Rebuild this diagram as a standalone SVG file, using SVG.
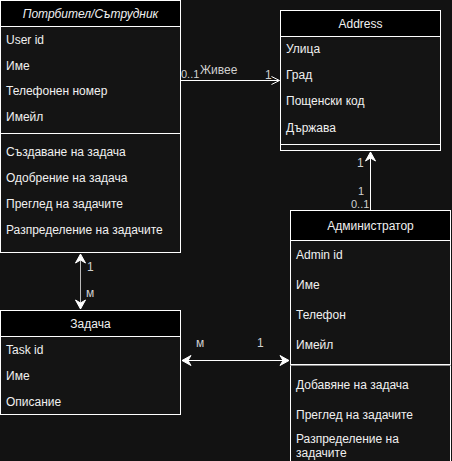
<svg xmlns="http://www.w3.org/2000/svg" width="452" height="461" viewBox="0 0 452 461">
<style>
.box{fill:#141414;stroke:#ffffff;stroke-width:1}
.hdr{fill:#000000;stroke:#ffffff;stroke-width:1}
.sep{stroke:#ffffff;stroke-width:1}
text{font-family:"Liberation Sans",Arial,sans-serif;font-size:12px;fill:#f0f0f0}
.t{text-anchor:middle}
.lbl{font-size:12px;fill:#d0d0d0}
.sm{font-size:11px}
.ln{stroke:#ffffff;stroke-width:1;fill:none}
</style>
<defs>
<marker id="open" markerWidth="10" markerHeight="10" refX="9" refY="5" orient="auto" markerUnits="userSpaceOnUse">
<path d="M1,1 L9,5 L1,9" fill="none" stroke="#ffffff" stroke-width="1"/>
</marker>
<marker id="fill" markerWidth="12" markerHeight="12" refX="10" refY="6" orient="auto-start-reverse" markerUnits="userSpaceOnUse">
<path d="M1,1 L10,6 L1,11 L4,6 Z" fill="#ffffff" stroke="#ffffff" stroke-width="1"/>
</marker>
</defs>
<rect width="452" height="461" fill="#121212"/>

<g id="user">
<rect class="box" x="0.5" y="0.5" width="180" height="252"/>
<rect class="hdr" x="0.5" y="0.5" width="180" height="26"/>
<text class="t" x="90.5" y="18" font-style="italic">Потрбител/Сътрудник</text>
<line class="sep" x1="0.5" y1="133.5" x2="180.5" y2="133.5"/>
<text x="6" y="44">User id</text>
<text x="6" y="70">Име</text>
<text x="6" y="95">Телефонен номер</text>
<text x="6" y="121">Имейл</text>
<text x="6" y="156">Създаване на задача</text>
<text x="6" y="182">Одобрение на задача</text>
<text x="6" y="208">Преглед на задачите</text>
<text x="6" y="234">Разпределение на задачите</text>
</g>

<g id="address">
<rect class="box" x="280.5" y="10.5" width="160" height="140"/>
<rect class="hdr" x="280.5" y="10.5" width="160" height="26"/>
<text class="t" x="360.5" y="28">Address</text>
<text x="286" y="53">Улица</text>
<text x="286" y="79">Град</text>
<text x="286" y="105">Пощенски код</text>
<text x="286" y="132">Държава</text>
<line class="sep" x1="280.5" y1="144.5" x2="440.5" y2="144.5"/>
</g>

<g id="task">
<rect class="box" x="0.5" y="310.5" width="180" height="104"/>
<rect class="hdr" x="0.5" y="310.5" width="180" height="26"/>
<text class="t" x="90.5" y="328">Задача</text>
<text x="6" y="354">Task id</text>
<text x="6" y="380">Име</text>
<text x="6" y="406">Описание</text>
</g>

<g id="admin">
<rect class="box" x="290.5" y="210.5" width="160" height="260"/>
<rect class="hdr" x="290.5" y="210.5" width="160" height="30"/>
<text class="t" x="370.5" y="230">Администратор</text>
<text x="296" y="259">Admin id</text>
<text x="296" y="289">Име</text>
<text x="296" y="319">Телефон</text>
<text x="296" y="349">Имейл</text>
<line x1="290.5" y1="364.5" x2="450.5" y2="364.5" stroke="#ffffff" stroke-width="1"/>
<line x1="290.5" y1="365.5" x2="450.5" y2="365.5" stroke="#888888" stroke-width="1"/>
<text x="296" y="389">Добавяне на задача</text>
<text x="296" y="419">Преглед на задачите</text>
<text x="296" y="443">Разпределение на</text>
<text x="296" y="457">задачите</text>
</g>

<g id="connectors">
<line class="ln" x1="180.5" y1="80.5" x2="279.5" y2="80.5" marker-end="url(#open)"/>
<text class="lbl sm" x="181" y="78">0..1</text>
<text class="lbl" x="200" y="74">Живее</text>
<text class="lbl" x="265" y="79">1</text>

<line class="ln" x1="370.5" y1="210" x2="370.5" y2="152" marker-end="url(#fill)"/>
<text class="lbl" x="357" y="167">1</text>
<text class="lbl sm" x="358" y="195">1</text>
<text class="lbl sm" x="351" y="208">0..1</text>

<line x1="80.5" y1="254" x2="80.5" y2="309" stroke="#bbbbbb" stroke-width="1" marker-start="url(#fill)" marker-end="url(#fill)"/>
<text class="lbl" x="87" y="271">1</text>
<text class="lbl" x="86" y="297">м</text>

<line class="ln" x1="182" y1="360.5" x2="289" y2="360.5" marker-start="url(#fill)" marker-end="url(#fill)"/>
<text class="lbl" x="196" y="347">м</text>
<text class="lbl" x="257" y="347">1</text>
</g>
</svg>
